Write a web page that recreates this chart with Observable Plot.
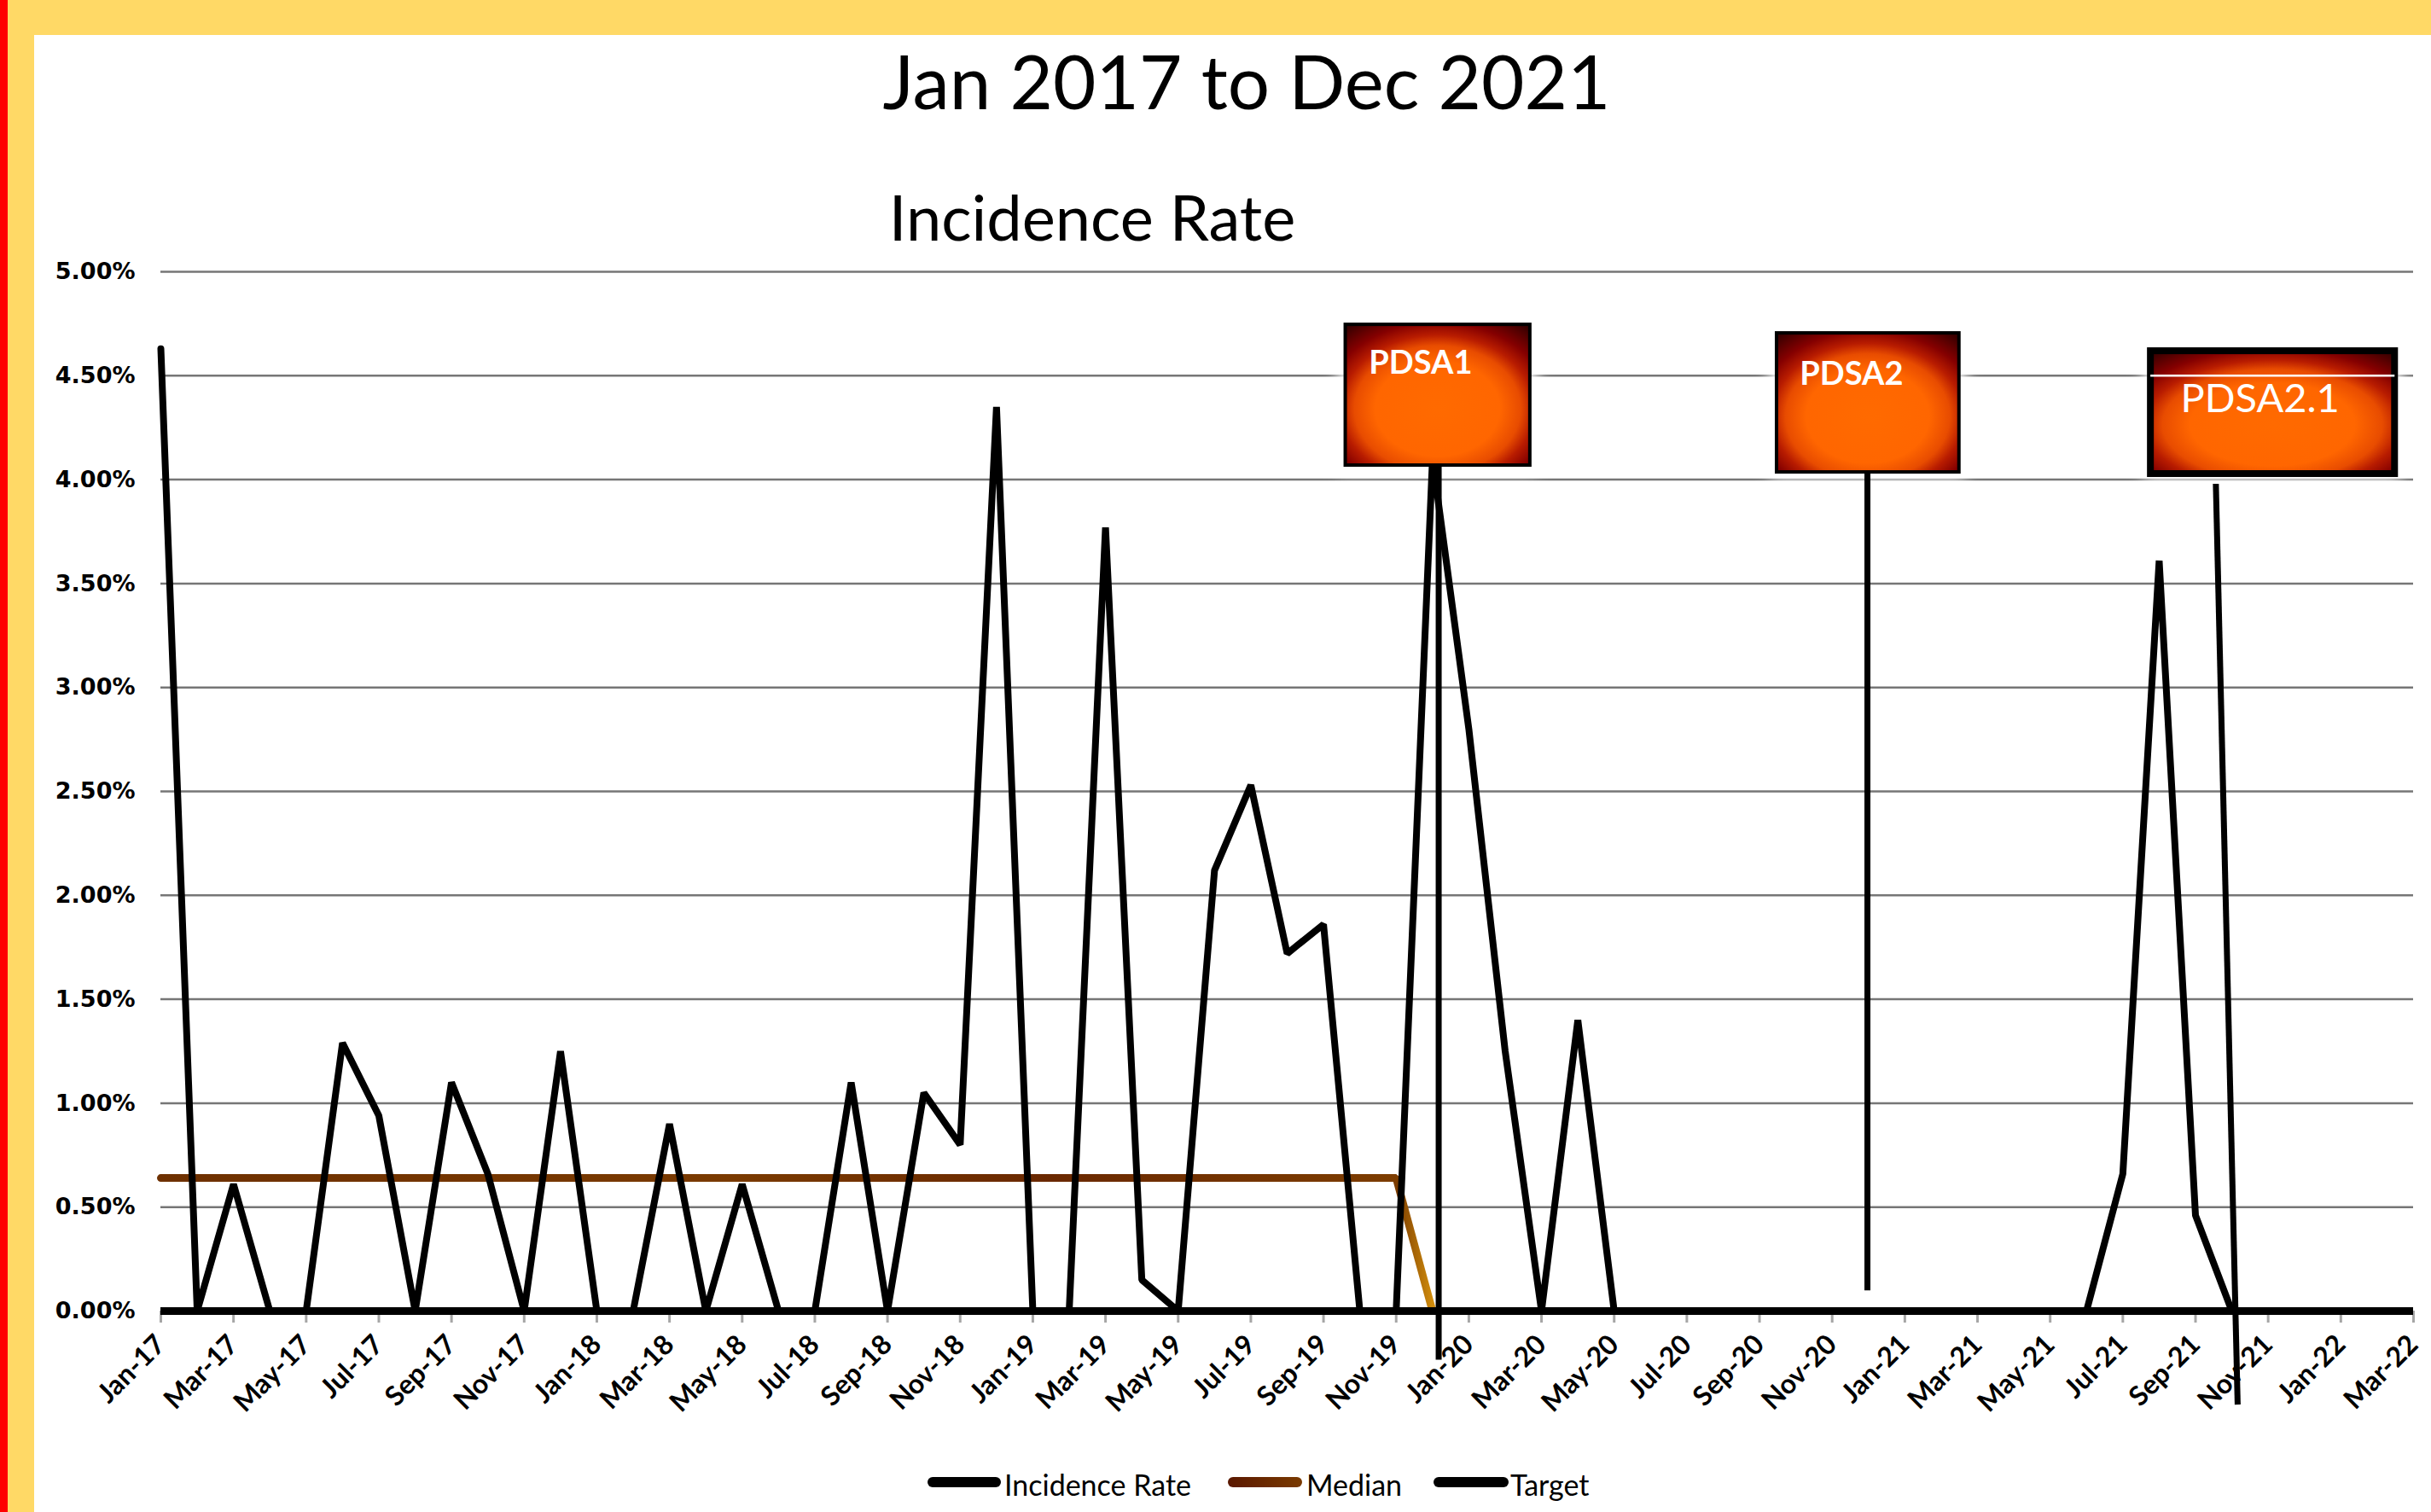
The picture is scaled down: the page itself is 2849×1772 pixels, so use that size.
<!DOCTYPE html>
<html>
<head>
<meta charset="utf-8">
<script src="https://cdn.jsdelivr.net/npm/d3@7"></script>
<script src="https://cdn.jsdelivr.net/npm/@observablehq/plot@0.6"></script>
<style>
  html, body { margin: 0; padding: 0; background: #fff; }
  #page { position: relative; width: 2849px; height: 1772px; background: #fff; overflow: hidden; font-family: Lato, "Noto Sans", sans-serif; }
  #redStrip { position: absolute; left: 0; top: 0; width: 9px; height: 1772px; background: #ff0000; }
  #yellowLeft { position: absolute; left: 9px; top: 0; width: 31px; height: 1772px; background: #ffd966; }
  #yellowTop { position: absolute; left: 9px; top: 0; width: 2840px; height: 41px; background: #ffd966; }
  .ttl { position: absolute; line-height: 1; white-space: nowrap; color: #000; transform: translateX(-50%); }
  #title { left: 1461px; top: 51px; font-size: 87px; }
  #subtitle { left: 1280px; top: 217px; font-size: 74px; }
  #chart { position: absolute; left: 40px; top: 290px; }
  .legText { position: absolute; top: 1723px; font-size: 34px; line-height: 1; white-space: nowrap; color: #000; }
  .legSwatch { position: absolute; top: 1731px; height: 12px; border-radius: 6px; }
</style>
</head>
<body>
<svg width="0" height="0" style="position:absolute">
  <defs>
    <radialGradient id="boxGrad" cx="0.5" cy="0.6" r="0.75">
      <stop offset="0" stop-color="#ff6a00"/>
      <stop offset="0.45" stop-color="#ff6600"/>
      <stop offset="0.6" stop-color="#e84c00"/>
      <stop offset="0.7" stop-color="#b81c00"/>
      <stop offset="0.82" stop-color="#850000"/>
      <stop offset="1" stop-color="#3a0000"/>
    </radialGradient>
    <linearGradient id="medGrad" x1="0" y1="0" x2="1" y2="0">
      <stop offset="0" stop-color="#6e3000"/>
      <stop offset="0.45" stop-color="#7a3a00"/>
      <stop offset="0.7" stop-color="#6a2800"/>
      <stop offset="0.972" stop-color="#7d3d00"/>
      <stop offset="1" stop-color="#d08c0c"/>
    </linearGradient>
    <filter id="glow" filterUnits="userSpaceOnUse" x="-200" y="-200" width="3300" height="1900">
      <feMorphology in="SourceAlpha" operator="dilate" radius="8" result="dil"/>
      <feGaussianBlur in="dil" stdDeviation="9" result="blur"/>
      <feFlood flood-color="#ffffff" result="white"/>
      <feComposite in="white" in2="blur" operator="in" result="glowOut"/>
      <feMerge>
        <feMergeNode in="glowOut"/>
        <feMergeNode in="SourceGraphic"/>
      </feMerge>
    </filter>
  </defs>
</svg>
<div id="page">
  <div id="redStrip"></div>
  <div id="yellowLeft"></div>
  <div id="yellowTop"></div>
  <div id="title" class="ttl"></div>
  <div id="subtitle" class="ttl"></div>
  <div id="chart"></div>
  <div id="legend"></div>
</div>
<script>
// ---------- data ----------
const titleText = "Jan 2017 to Dec 2021";
const subtitleText = "Incidence Rate";

// category axis (monthly), Jan-17 .. Mar-22
const months = [
  "Jan-17","Feb-17","Mar-17","Apr-17","May-17","Jun-17","Jul-17","Aug-17","Sep-17","Oct-17","Nov-17","Dec-17",
  "Jan-18","Feb-18","Mar-18","Apr-18","May-18","Jun-18","Jul-18","Aug-18","Sep-18","Oct-18","Nov-18","Dec-18",
  "Jan-19","Feb-19","Mar-19","Apr-19","May-19","Jun-19","Jul-19","Aug-19","Sep-19","Oct-19","Nov-19","Dec-19",
  "Jan-20","Feb-20","Mar-20","Apr-20","May-20","Jun-20","Jul-20","Aug-20","Sep-20","Oct-20","Nov-20","Dec-20",
  "Jan-21","Feb-21","Mar-21","Apr-21","May-21","Jun-21","Jul-21","Aug-21","Sep-21","Oct-21","Nov-21","Dec-21",
  "Jan-22","Feb-22","Mar-22"
];

// Incidence rate (%) Jan-17 .. Dec-21
const incidenceRate = [
  4.63, 0, 0.61, 0, 0, 1.29, 0.94, 0, 1.10, 0.66, 0, 1.25,
  0, 0, 0.90, 0, 0.61, 0, 0, 1.10, 0, 1.05, 0.80, 4.35,
  0, 0, 3.77, 0.15, 0, 2.12, 2.53, 1.72, 1.86, 0, 0, 4.10,
  2.80, 1.25, 0, 1.40, 0, 0, 0, 0, 0, 0, 0, 0,
  0, 0, 0, 0, 0, 0, 0.66, 3.61, 0.46, 0, 0, 0
];

// Median line (%)
const medianMonths = ["Jan-17", "Nov-19", "Dec-19"];
const medianValues = [0.64, 0.64, 0];

// Target (%)
const targetValue = [0];

// y ticks (%)
const yTicks = [0, 0.5, 1, 1.5, 2, 2.5, 3, 3.5, 4, 4.5, 5];

// PDSA annotations (x in month index, y in %)
const pdsaNames = ["PDSA1", "PDSA2", "PDSA2.1"];
const pdsaBoxX1 = [32.61, 44.48, 54.77];
const pdsaBoxX2 = [37.69, 49.50, 61.49];
const pdsaBoxYBottom = [4.068, 4.035, 4.027];
const pdsaBoxYTop = [4.745, 4.704, 4.618];
const pdsaLabelX = [33.25, 45.11, 55.59];
const pdsaLabelY = [4.561, 4.508, 4.386];
const pdsaLineX1 = [35.17, 46.97, 56.56];
const pdsaLineY1 = [4.068, 4.035, 3.98];
const pdsaLineX2 = [35.17, 46.97, 57.16];
const pdsaLineY2 = [-0.234, 0.10, -0.45];

const seriesNames = ["Incidence Rate", "Median", "Target"];

// ---------- build ----------
const incRows = incidenceRate.map((v, i) => ({i, v}));
const medRows = medianMonths.map((m, k) => ({i: months.indexOf(m), v: medianValues[k]}));
const pdsa = pdsaNames.map((name, k) => ({
  name,
  bx1: pdsaBoxX1[k], bx2: pdsaBoxX2[k], by1: pdsaBoxYBottom[k], by2: pdsaBoxYTop[k],
  lx: pdsaLabelX[k], ly: pdsaLabelY[k],
  x1: pdsaLineX1[k], y1: pdsaLineY1[k], x2: pdsaLineX2[k], y2: pdsaLineY2[k]
}));
const xTicks = months.map((m, i) => i).filter(i => i % 2 === 0);

document.getElementById("title").textContent = titleText;
document.getElementById("subtitle").textContent = subtitleText;

const chart = Plot.plot({
  width: 2809,
  height: 1400,
  marginLeft: 148,
  marginRight: 21,
  marginTop: 28,
  marginBottom: 154,
  style: {background: "transparent", fontFamily: "Lato, sans-serif", overflow: "visible"},
  x: {type: "linear", domain: [0, months.length - 1], axis: null},
  y: {type: "linear", domain: [0, 5], axis: null},
  marks: [
    Plot.gridY(yTicks, {stroke: "#767676", strokeOpacity: 1, strokeWidth: 2.5}),
    // white halo behind the PDSA boxes
    Plot.rect(pdsa, {
      x1: "bx1", x2: "bx2", y1: "by1", y2: "by2",
      fill: "#fff", ariaDescription: "pdsa-glow"
    }),
    Plot.axisY(yTicks, {
      tickSize: 0, tickPadding: 30, label: null,
      tickFormat: d => d.toFixed(2) + "%",
      fontFamily: "DejaVu Sans", fontWeight: "bold", fontSize: 27, fill: "#000"
    }),
    Plot.axisX(xTicks, {
      tickSize: 14, tickPadding: 20, tickRotate: -45, label: null,
      tickFormat: i => months[i],
      stroke: "#a6a6a6", strokeWidth: 3,
      fontFamily: "Lato, sans-serif", fontWeight: "bold", fontSize: 32, fill: "#000"
    }),
    Plot.line(medRows, {x: "i", y: "v", stroke: "url(#medGrad)", strokeWidth: 9, strokeLinejoin: "miter"}),
    Plot.line(incRows, {x: "i", y: "v", stroke: "#000", strokeWidth: 8, strokeLinejoin: "miter"}),
    Plot.ruleY(targetValue, {stroke: "#000", strokeWidth: 9}),
    Plot.link(pdsa, {x1: "x1", y1: "y1", x2: "x2", y2: "y2", stroke: "#000", strokeWidth: 7}),
    Plot.rect(pdsa, {
      x1: "bx1", x2: "bx2", y1: "by1", y2: "by2",
      fill: "url(#boxGrad)", stroke: "#000",
      strokeWidth: (d, k) => (k === 2 ? 8 : 4)
    }),
    Plot.ruleY(pdsa, {filter: (d, k) => k === 2, y: () => 4.5, x1: "bx1", x2: "bx2", stroke: "#fff", strokeWidth: 2.5}),
    Plot.text(pdsa, {
      filter: (d, k) => k < 2, x: "lx", y: "ly", text: "name",
      textAnchor: "start", lineAnchor: "middle",
      fill: "#fff", fontWeight: "bold", fontSize: 38, fontFamily: "Lato, sans-serif"
    }),
    Plot.text(pdsa, {
      filter: (d, k) => k === 2, x: "lx", y: "ly", text: "name",
      textAnchor: "start", lineAnchor: "middle",
      fill: "#fff", fontWeight: "normal", fontSize: 47, fontFamily: "Lato, sans-serif"
    })
  ]
});
chart.querySelectorAll('[aria-description="pdsa-glow"]').forEach(g => g.setAttribute("filter", "url(#glow)"));
document.getElementById("chart").appendChild(chart);

// legend
const legendLayout = [
  {swatchLeft: 1087, swatchWidth: 86, textLeft: 1177, color: "#000"},
  {swatchLeft: 1439, swatchWidth: 87, textLeft: 1531, color: "linear-gradient(to right, #5a1800, #7a3a00)"},
  {swatchLeft: 1680, swatchWidth: 88, textLeft: 1770, color: "#000"}
];
const legend = document.getElementById("legend");
seriesNames.forEach((name, k) => {
  const L = legendLayout[k];
  const sw = document.createElement("div");
  sw.className = "legSwatch";
  sw.style.left = L.swatchLeft + "px";
  sw.style.width = L.swatchWidth + "px";
  sw.style.background = L.color;
  legend.appendChild(sw);
  const tx = document.createElement("div");
  tx.className = "legText";
  tx.style.left = L.textLeft + "px";
  tx.textContent = name;
  legend.appendChild(tx);
});
</script>
</body>
</html>
